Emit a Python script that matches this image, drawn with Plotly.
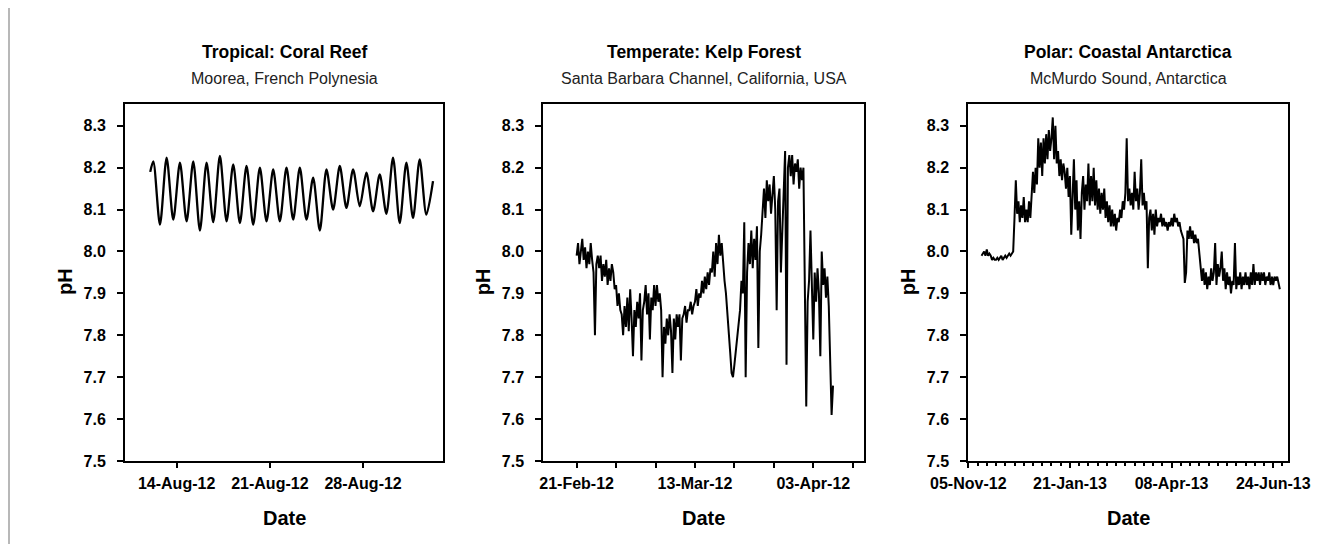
import plotly.graph_objects as go
import pandas as pd

# ---------------- data ----------------
# Tropical: Coral Reef (Moorea) - daily peaks and troughs
reef_first = 8.19
reef_peaks = [8.215, 8.224, 8.212, 8.215, 8.212, 8.228, 8.208, 8.204, 8.200, 8.196, 8.200,
              8.200, 8.176, 8.196, 8.204, 8.196, 8.188, 8.184, 8.224, 8.212, 8.220, 8.168]
reef_troughs = [8.064, 8.076, 8.072, 8.050, 8.070, 8.072, 8.068, 8.064, 8.072, 8.072, 8.076,
                8.076, 8.050, 8.100, 8.104, 8.108, 8.096, 8.090, 8.068, 8.080, 8.088]

# Temperate: Kelp Forest (Santa Barbara) - 6-hourly readings from 21-Feb-12
kelp_ph = [
    7.99, 8.02, 7.97, 8.01, 8.03, 7.98, 8.01, 7.96, 8.00, 7.97, 8.02, 7.98,
    7.95, 7.80, 7.97, 7.99, 7.96, 7.99, 7.93, 7.97, 7.94, 7.98, 7.92, 7.96,
    7.93, 7.97, 7.95, 7.91, 7.92, 7.87, 7.90, 7.86, 7.85, 7.80, 7.87, 7.82,
    7.89, 7.81, 7.91, 7.84, 7.75, 7.86, 7.82, 7.88, 7.84, 7.90, 7.74, 7.86,
    7.88, 7.92, 7.85, 7.90, 7.79, 7.89, 7.86, 7.92, 7.87, 7.92, 7.88, 7.90,
    7.86, 7.70, 7.82, 7.78, 7.84, 7.80, 7.85, 7.81, 7.71, 7.84, 7.79, 7.85,
    7.82, 7.85, 7.74, 7.84, 7.85, 7.87, 7.83, 7.86, 7.86, 7.88, 7.85, 7.87,
    7.88, 7.91, 7.87, 7.90, 7.89, 7.93, 7.90, 7.94, 7.91, 7.95, 7.92, 7.96,
    7.95, 8.00, 7.94, 8.02, 7.97, 8.04, 7.99, 8.02, 7.96, 7.93, 7.90, 7.86,
    7.81, 7.76, 7.71, 7.70, 7.73, 7.76, 7.80, 7.83, 7.86, 7.93, 7.90, 8.07,
    7.70, 7.95, 8.02, 7.97, 8.05, 7.96, 8.03, 7.98, 8.06, 7.77, 8.00, 8.04,
    8.10, 8.15, 8.08, 8.17, 8.12, 8.16, 8.09, 8.14, 8.18, 8.10, 7.86, 8.12,
    8.15, 7.95, 8.05, 8.19, 8.24, 7.73, 8.20, 8.23, 8.18, 8.23, 8.16, 8.21,
    8.19, 8.22, 8.15, 8.20, 8.17, 8.20, 7.95, 7.63, 7.88, 7.93, 8.05, 7.90,
    7.79, 7.95, 7.88, 7.96, 7.90, 7.75, 8.00, 7.92, 7.96, 7.89, 7.94, 7.87,
    7.70, 7.61, 7.68,
]

# Polar: Coastal Antarctica (McMurdo Sound) - daily readings from 15-Nov-12
polar_ph = [
    7.99, 7.995, 8.00, 7.99, 8.005, 7.99, 7.995, 7.99, 7.98, 7.985,
    7.98, 7.98, 7.985, 7.98, 7.985, 7.99, 7.98, 7.985, 7.99, 7.985,
    7.99, 7.995, 7.99, 7.995, 8.00,
    8.08, 8.17, 8.09, 8.12, 8.07, 8.11, 8.08, 8.13, 8.07, 8.10, 8.07, 8.12, 8.08,
    8.15, 8.19, 8.14, 8.20, 8.16,
    8.27, 8.20, 8.26, 8.18, 8.27, 8.21, 8.28, 8.22, 8.29, 8.24, 8.27, 8.32, 8.22, 8.30, 8.21,
    8.24, 8.18, 8.22, 8.17, 8.21, 8.19, 8.15, 8.20, 8.13, 8.18,
    8.04, 8.15, 8.22, 8.10, 8.17, 8.05, 8.12, 8.03,
    8.14, 8.18, 8.10, 8.16, 8.12, 8.21, 8.11, 8.18, 8.12, 8.20, 8.11, 8.17, 8.10, 8.15,
    8.09, 8.14, 8.10, 8.15, 8.08, 8.12, 8.07, 8.11,
    8.06, 8.10, 8.06, 8.09, 8.05, 8.08,
    8.07, 8.10, 8.08, 8.12, 8.10, 8.14, 8.27, 8.12,
    8.15, 8.11, 8.14, 8.10, 8.19, 8.12, 8.15, 8.10, 8.14, 8.22, 8.11, 8.14, 8.10, 8.12,
    7.96,
    8.08, 8.10, 8.05, 8.09, 8.04, 8.10, 8.06, 8.08, 8.07, 8.09, 8.06, 8.08, 8.06, 8.07,
    8.05, 8.07, 8.06, 8.08, 8.06, 8.09, 8.07, 8.08, 8.06, 8.07, 8.05, 8.04, 8.03,
    7.925, 7.95,
    8.05, 8.03, 8.06, 8.03, 8.05, 8.02, 8.04, 8.02, 8.03, 8.00,
    7.97, 7.93, 7.96, 7.92, 7.95,
    7.91, 7.94, 7.92, 7.96, 7.93, 7.95, 8.02, 7.92, 7.97, 7.94,
    7.96, 8.00, 7.93, 7.96, 7.91, 7.95, 7.92, 7.94, 7.90, 7.93,
    7.92, 8.02, 7.91, 7.94, 7.92, 7.95, 7.91, 7.94, 7.92, 7.95,
    7.92, 7.94, 7.91, 7.95, 7.92, 7.97, 7.92, 7.95, 7.93, 7.95,
    7.92, 7.95, 7.93, 7.95, 7.92, 7.94, 7.93, 7.95, 7.92, 7.94,
    7.92, 7.94, 7.93, 7.94, 7.92, 7.91,
]

titles = ["Tropical: Coral Reef", "Temperate: Kelp Forest", "Polar: Coastal Antarctica"]
subtitles = ["Moorea, French Polynesia", "Santa Barbara Channel, California, USA",
             "McMurdo Sound, Antarctica"]
y_ticks = [7.5, 7.6, 7.7, 7.8, 7.9, 8.0, 8.1, 8.2, 8.3]
x1_ticks = ["2012-08-14", "2012-08-21", "2012-08-28"]
x1_labels = ["14-Aug-12", "21-Aug-12", "28-Aug-12"]
x2_ticks = ["2012-02-21", "2012-03-13", "2012-04-03"]
x2_labels = ["21-Feb-12", "13-Mar-12", "03-Apr-12"]
x3_ticks = ["2012-11-05", "2013-01-21", "2013-04-08", "2013-06-24"]
x3_labels = ["05-Nov-12", "21-Jan-13", "08-Apr-13", "24-Jun-13"]

# ---------------- sampling grids ----------------
reef_y = [reef_first]
for i in range(len(reef_troughs)):
    reef_y += [reef_peaks[i], reef_troughs[i]]
reef_y.append(reef_peaks[-1])
reef_x = [pd.Timestamp("2012-08-12 00:30")] + list(
    pd.date_range("2012-08-12 06:00", periods=len(reef_y) - 1, freq="12h"))

kelp_x = pd.date_range("2012-02-21 00:00", periods=len(kelp_ph), freq="6h")
polar_x = pd.date_range("2012-11-15", periods=len(polar_ph), freq="D")

# ---------------- figure ----------------
W, H = 1327, 544
OFF = 8  # page body margin: screen position = figure position + 8


def px(sx):
    return (sx - OFF) / W


def py(sy):
    return 1 - (sy - OFF) / H


fig = go.Figure()
fig.add_trace(go.Scatter(x=reef_x, y=reef_y, mode="lines", xaxis="x", yaxis="y",
                         line=dict(color="black", width=2.3, shape="spline", smoothing=0.8)))
fig.add_trace(go.Scatter(x=kelp_x, y=kelp_ph, mode="lines", xaxis="x2", yaxis="y2",
                         line=dict(color="black", width=2)))
fig.add_trace(go.Scatter(x=polar_x, y=polar_ph, mode="lines", xaxis="x3", yaxis="y3",
                         line=dict(color="black", width=2)))

FONT = "Liberation Sans, Arial, sans-serif"
tickfont = dict(family=FONT, size=16, color="black", weight="bold")

box_px = [(125, 443), (543.3, 864), (968.3, 1288.3)]
top_px, bot_px = 104, 461
ydom = [py(bot_px), py(top_px)]


def yaxis_cfg(anchor):
    return dict(domain=ydom, anchor=anchor, range=[7.5, 8.352], tickmode="array",
                tickvals=y_ticks, tickformat=".1f", ticks="outside", ticklen=6,
                tickwidth=2, tickcolor="black", showline=True, linecolor="black",
                linewidth=2, mirror=True, showgrid=False, zeroline=False,
                tickfont=tickfont, ticklabelstandoff=8, automargin=False)


def xaxis_cfg(i, anchor, rng, tv, tt, minor=None, ticklen=5):
    d = dict(domain=[px(box_px[i][0]), px(box_px[i][1])], anchor=anchor, type="date",
             range=rng, tickmode="array", tickvals=tv, ticktext=tt, ticks="outside",
             ticklen=ticklen, tickwidth=2, tickcolor="black", showline=True,
             linecolor="black", linewidth=2, mirror=True, showgrid=False,
             zeroline=False, tickfont=tickfont, ticklabelstandoff=2, automargin=False)
    if minor:
        d["minor"] = minor
    return d


WEEK = 7 * 86400000
fig.update_layout(
    width=W, height=H, margin=dict(l=0, r=0, t=0, b=0, autoexpand=False),
    paper_bgcolor="white", plot_bgcolor="white", showlegend=False,
    xaxis=xaxis_cfg(0, "y", ["2012-08-10 03:00", "2012-09-03 00:00"], x1_ticks, x1_labels),
    xaxis2=xaxis_cfg(1, "y2", ["2012-02-15 02:00", "2012-04-12 00:00"], x2_ticks, x2_labels,
                     minor=dict(ticks="outside", dtick=WEEK, tick0="2012-02-21",
                                ticklen=5, tickwidth=2, tickcolor="black")),
    xaxis3=xaxis_cfg(2, "y3", ["2012-11-05 00:00", "2013-07-05 10:00"], x3_ticks, x3_labels,
                     minor=dict(ticks="outside", dtick=WEEK, tick0="2012-11-05",
                                ticklen=3, tickwidth=1.5, tickcolor="black")),
    yaxis=yaxis_cfg("x"),
    yaxis2=yaxis_cfg("x2"),
    yaxis3=yaxis_cfg("x3"),
)

annotations = []
for i, (x0, x1) in enumerate(box_px):
    cx = px((x0 + x1) / 2)
    annotations.append(dict(text=titles[i], x=cx, y=py(52.5), xref="paper", yref="paper",
                            showarrow=False, xanchor="center", yanchor="middle",
                            font=dict(family=FONT, size=17.5, color="black", weight="bold")))
    annotations.append(dict(text=subtitles[i], x=cx, y=py(78), xref="paper", yref="paper",
                            showarrow=False, xanchor="center", yanchor="middle",
                            font=dict(family=FONT, size=16, color="#222222")))
    annotations.append(dict(text="Date", x=cx, y=py(517.5), xref="paper", yref="paper",
                            showarrow=False, xanchor="center", yanchor="middle",
                            font=dict(family=FONT, size=20, color="black", weight="bold")))
    annotations.append(dict(text="pH", x=px(x0 - 60), y=py(282), xref="paper",
                            yref="paper", showarrow=False, xanchor="center",
                            yanchor="middle", textangle=-90,
                            font=dict(family=FONT, size=20, color="black", weight="bold")))
fig.update_layout(annotations=annotations)

fig.add_shape(type="line", xref="paper", yref="paper", x0=1 / W, x1=1 / W, y0=0, y1=1,
              line=dict(color="#a0a0a0", width=1.5))

fig.write_html("out.html")
